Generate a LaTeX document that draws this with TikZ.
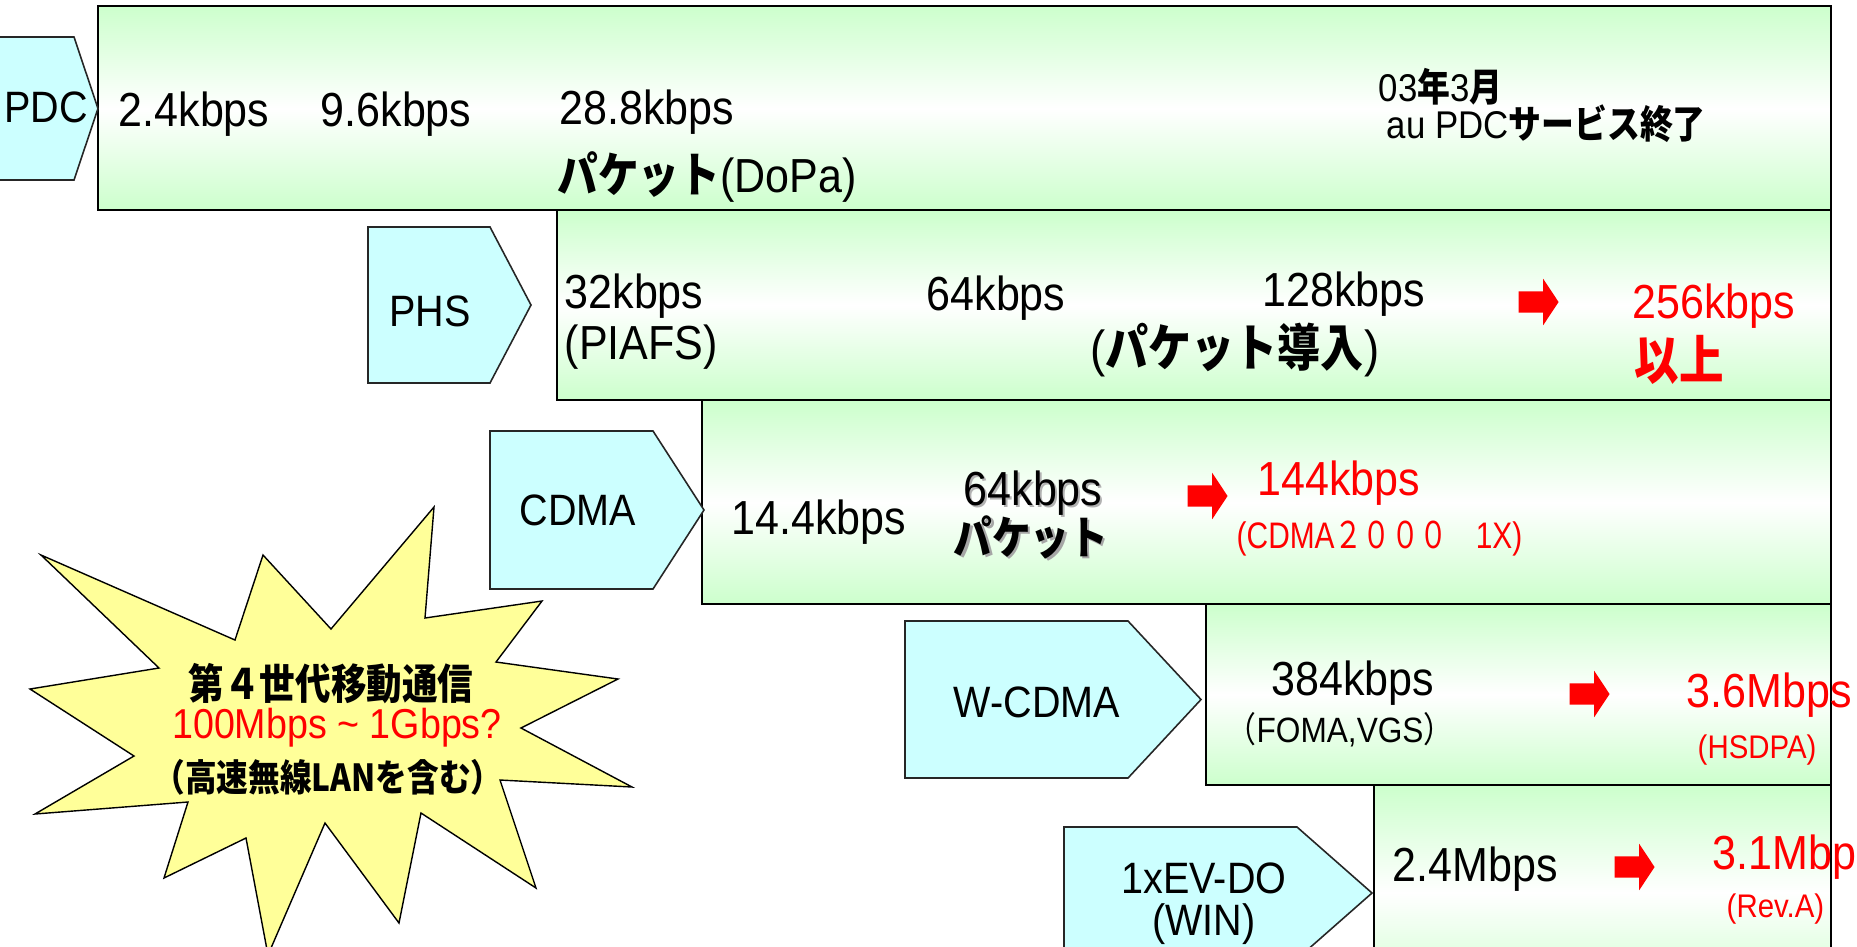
\documentclass[tikz,border=0pt]{standalone}
\usepackage{fontspec}
\usepackage{graphicx}
\setmainfont[FakeStretch=0.9]{Liberation Sans}
\newfontfamily\jp[FakeStretch=0.85]{Noto Sans CJK JP}
\usepackage{tikz}
\usetikzlibrary{shapes.arrows}
\definecolor{bargreen}{RGB}{204,255,204}
\definecolor{tagcyan}{RGB}{204,255,255}
\definecolor{staryellow}{RGB}{255,255,153}
\definecolor{myred}{RGB}{255,0,0}
\tikzstyle{bar} = [draw=black, line width=0.6pt, top color=bargreen, bottom color=bargreen, middle color=white]
\tikzstyle{sysbox} = [draw=black!85, line width=0.45pt, fill=tagcyan]
\tikzstyle{redarrow} = [single arrow, fill=myred, inner xsep=0pt, inner ysep=0.1cm, minimum height=0.40cm, single arrow head extend=0.125cm, single arrow tip angle=113]

\begin{document}
\begin{tikzpicture}[x=1cm, y=-1cm, rate/.style={anchor=west, inner sep=0pt, font=\fontsize{13.6}{15}\selectfont}, note/.style={anchor=west, inner sep=0pt, font=\fontsize{11}{13}\selectfont}, lowtxt/.style={anchor=west, inner sep=0pt, font=\fontsize{9.3}{11}\selectfont}, sysname/.style={inner sep=0pt, align=center, font=\fontsize{12.5}{12}\selectfont}]
    \useasboundingbox (0,0) rectangle (18.57,9.46);
    \clip (0,0) rectangle (18.57,9.46);
    % bars
    \draw[bar] (0.98,0.06) rectangle (18.31,2.10);
    \draw[bar] (5.57,2.10) rectangle (18.31,4.00);
    \draw[bar] (7.02,4.00) rectangle (18.31,6.04);
    \draw[bar] (12.06,6.04) rectangle (18.31,7.85);
    \draw[bar] (13.74,7.85) rectangle (18.31,10.00);
    % system tags
    \draw[sysbox] (-0.80,0.37) -- (0.74,0.37) -- (0.98,1.085) -- (0.74,1.80) -- (-0.80,1.80) -- cycle;
    \draw[sysbox] (3.68,2.27) -- (4.90,2.27) -- (5.31,3.05) -- (4.90,3.83) -- (3.68,3.83) -- cycle;
    \draw[sysbox] (4.90,4.31) -- (6.53,4.31) -- (7.04,5.10) -- (6.53,5.89) -- (4.90,5.89) -- cycle;
    \draw[sysbox] (9.05,6.21) -- (11.28,6.21) -- (12.01,6.995) -- (11.28,7.78) -- (9.05,7.78) -- cycle;
    \draw[sysbox] (10.64,8.27) -- (12.97,8.27) -- (13.72,8.93) -- (12.97,9.59) -- (10.64,9.59) -- cycle;
    \node[sysname] (pdc) at (0.46,1.07) {PDC};
    \node[sysname] (phs) at (4.30,3.11) {PHS};
    \node[sysname] (cdma) at (5.78,5.10) {CDMA};
    \node[sysname] (wcdma) at (10.37,7.02) {W-CDMA};
    \node[sysname] (evdo) at (12.04,9.04) {1xEV-DO\\(WIN)};
    % PDC
    \node[rate] (pdc1) at (1.18,1.14) {2.4kbps};
    \node[rate] (pdc2) at (3.20,1.14) {9.6kbps};
    \node[rate] (pdc3) at (5.59,1.12) {28.8kbps};
    \node[rate] (pdc4) at (5.57,1.77) {{\jp\bfseries パケット}(DoPa)};
    \node[note] (pdcend1) at (13.78,0.87) {03{\jp\bfseries 年}3{\jp\bfseries 月}};
    \node[note] (pdcend2) at (13.86,1.24) {au PDC{\jp\bfseries サービス終了}};
    % PHS
    \node[rate] (phs1) at (5.64,2.96) {32kbps};
    \node[rate] (phs1b) at (5.64,3.47) {(PIAFS)};
    \node[rate] (phs2) at (9.26,2.98) {64kbps};
    \node[rate] (phs3) at (12.62,2.94) {128kbps};
    \node[rate, font=\fontsize{14.4}{16}\selectfont] (phs3b) at (10.90,3.50) {({\jp\bfseries パケット導入})};
    \node[redarrow] (phsgo) at (15.35,3.02) {};
    \node[rate, text=myred] (phs4) at (16.32,3.06) {256kbps};
    \node[rate, text=myred, font=\jp\bfseries\fontsize{14.9}{16}\selectfont] (phs4b) at (16.34,3.60) {以上};
    % CDMA
    \node[rate] (cdma1) at (7.31,5.22) {14.4kbps};
    \node[rate, text=black!30] (cdma2s) at (9.65,4.95) {64kbps};
    \node[rate] (cdma2) at (9.63,4.93) {64kbps};
    \node[rate, text=black!35, font=\jp\bfseries\fontsize{12.9}{14}\selectfont] (cdma2bs) at (9.555,5.395) {パケット};
    \node[rate, font=\jp\bfseries\fontsize{12.9}{14}\selectfont] (cdma2b) at (9.53,5.37) {パケット};
    \node[redarrow] (cdmago) at (12.04,4.96) {};
    \node[rate, text=myred] (cdma3) at (12.57,4.83) {144kbps};
    \node[lowtxt, text=myred, font=\fontsize{10.5}{12}\selectfont] (cdma3b) at (12.36,5.39) {\scalebox{0.9}[1]{(CDMA{\jp ２０００　}1X)}};
    % W-CDMA
    \node[rate] (wcdma1) at (12.71,6.83) {384kbps};
    \node[lowtxt, font=\fontsize{10}{12}\selectfont] (wcdma1b) at (12.26,7.30) {{\jp （}FOMA,VGS{\jp ）}};
    \node[redarrow] (wcdmago) at (15.86,6.94) {};
    \node[rate, text=myred] (wcdma2) at (16.86,6.95) {3.6Mbps};
    \node[lowtxt, text=myred] (wcdma2b) at (16.97,7.50) {(HSDPA)};
    % 1xEV-DO
    \node[rate] (evdo1) at (13.92,8.69) {2.4Mbps};
    \node[redarrow] (evdogo) at (16.31,8.67) {};
    \node[rate, text=myred] (evdo2) at (17.12,8.57) {3.1Mbps};
    \node[lowtxt, text=myred] (evdo2b) at (17.26,9.09) {(Rev.A)};
    % 4G burst
    \draw[fill=staryellow, draw=black, line width=0.4pt] (0.41,5.55) -- (2.35,6.40) -- (2.63,5.55) -- (3.31,6.29) -- (4.34,5.07) -- (4.25,6.18) -- (5.42,6.01) -- (4.96,6.62) -- (6.18,6.79) -- (5.21,7.28) -- (6.32,7.87) -- (5.00,7.80) -- (5.36,8.88) -- (4.21,8.13) -- (3.99,9.23) -- (3.25,8.23) -- (2.68,9.55) -- (2.46,8.38) -- (1.64,8.78) -- (1.88,8.02) -- (0.35,8.14) -- (1.34,7.56) -- (0.30,6.89) -- (1.59,6.68) -- cycle;
    \node[inner sep=0pt, font=\jp\bfseries\fontsize{11.9}{13}\selectfont] (g4a) at (3.31,6.84) {第４世代移動通信};
    \node[inner sep=0pt, text=myred, font=\fontsize{11.9}{13}\selectfont] (g4b) at (3.37,7.28) {100Mbps \textasciitilde{} 1Gbps?};
    \node[inner sep=0pt, font=\jp\bfseries\fontsize{10.6}{12}\selectfont] (g4c) at (3.28,7.77) {（高速無線LANを含む）};
\end{tikzpicture}
\end{document}
